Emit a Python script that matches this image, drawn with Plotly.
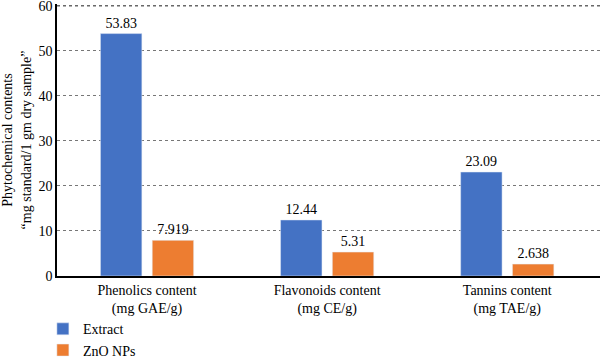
import plotly.graph_objects as go

categories = ["Phenolics content<br>(mg GAE/g)", "Flavonoids content<br>(mg CE/g)", "Tannins content<br>(mg TAE/g)"]
extract_vals = [53.83, 12.44, 23.09]
zno_vals = [7.919, 5.31, 2.638]
extract_text = ["53.83", "12.44", "23.09"]
zno_text = ["7.919", "5.31", "2.638"]
y_ticks = [0, 10, 20, 30, 40, 50, 60]

FONT = "Liberation Serif"

fig = go.Figure()
fig.add_trace(go.Bar(x=categories, y=extract_vals, name="Extract", marker_color="#4472C4",
                     text=extract_text, textposition="outside", cliponaxis=False,
                     textfont=dict(size=14, color="black", family=FONT)))
fig.add_trace(go.Bar(x=categories, y=zno_vals, name="ZnO NPs", marker_color="#ED7D31",
                     text=zno_text, textposition="outside", cliponaxis=False,
                     textfont=dict(size=14, color="black", family=FONT)))

fig.update_layout(
    width=600, height=358,
    margin=dict(l=57, r=0, t=4, b=82, autoexpand=False),
    paper_bgcolor="white", plot_bgcolor="white",
    font=dict(family=FONT, size=14, color="black"),
    barmode="group", bargap=0.425, bargroupgap=0.2,
    showlegend=True,
    legend=dict(orientation="v", x=-0.026, xanchor="left", y=-0.137, yanchor="top",
                font=dict(size=14, family=FONT), itemwidth=30,
                traceorder="normal", bgcolor="rgba(0,0,0,0)"),
    uniformtext=dict(mode=False),
)
# top gridline (plotly omits the one nearest the plot edge)
fig.add_shape(type="line", xref="paper", x0=0, x1=1, yref="y", y0=y_ticks[-1], y1=y_ticks[-1],
              line=dict(color="#666666", width=1.2, dash="dot"), layer="above")
fig.update_yaxes(range=[0, 60.4], tickvals=y_ticks, showgrid=True,
                 gridcolor="#777777", griddash="dot", ticklabeloverflow="allow",
                 gridwidth=1, showline=True, linecolor="black", linewidth=1.5, zeroline=False,
                 ticks="", automargin=False, tickfont=dict(size=14, family=FONT),
                 title=dict(text="Phytochemical contents<br>\u201cmg standard/1 gm dry sample\u201d",
                            font=dict(size=14, family=FONT), standoff=4))
fig.update_xaxes(range=[-0.5, 2.515], showline=True, linecolor="black", linewidth=1.5, ticks="",
                 automargin=False, tickfont=dict(size=14, family=FONT))

fig.write_html("out.html", config={"displayModeBar": False},
               post_script="document.body.style.margin='0px';document.body.style.padding='0px';")
